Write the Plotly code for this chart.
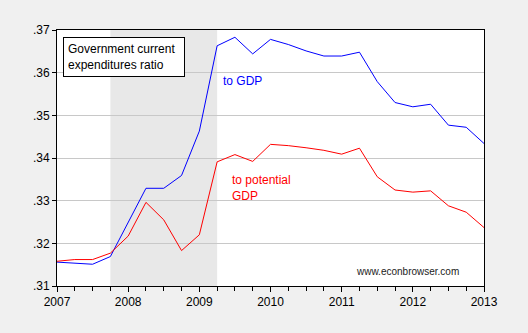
import plotly.graph_objects as go

# Quarterly observations, 2007Q1 - 2013Q1
quarters = [2007 + i / 4 for i in range(25)]
ratio_to_gdp = [
    0.3156, 0.3153, 0.3151, 0.3169,
    0.3248, 0.3329, 0.3329, 0.3359,
    0.3463, 0.3663, 0.3683, 0.3644,
    0.3678, 0.3666, 0.3651, 0.3639,
    0.3639, 0.3648, 0.3579, 0.3530,
    0.3520, 0.3526, 0.3477, 0.3472,
    0.3434,
]
ratio_to_potential = [
    0.3158, 0.3162, 0.3162, 0.3177,
    0.3217, 0.3296, 0.3255, 0.3183,
    0.3220, 0.3391, 0.3408, 0.3392,
    0.3432, 0.3429, 0.3424, 0.3418,
    0.3409, 0.3423, 0.3356, 0.3325,
    0.3320, 0.3323, 0.3288, 0.3273,
    0.3237,
]
year_ticks = [2007, 2008, 2009, 2010, 2011, 2012, 2013]
y_ticks = [0.31, 0.32, 0.33, 0.34, 0.35, 0.36, 0.37]
y_tick_text = [".31", ".32", ".33", ".34", ".35", ".36", ".37"]
recession = (2007.75, 2009.25)

FONT = "Arial, Liberation Sans, sans-serif"

fig = go.Figure()
fig.add_trace(go.Scatter(x=quarters, y=ratio_to_gdp, mode="lines",
                         line=dict(color="#0000ff", width=1), showlegend=False))
fig.add_trace(go.Scatter(x=quarters, y=ratio_to_potential, mode="lines",
                         line=dict(color="#ff0000", width=1), showlegend=False))

# NBER recession shading
fig.add_shape(type="rect", xref="x", yref="paper", x0=recession[0], x1=recession[1],
              y0=0, y1=1, fillcolor="#e8e8e8", line=dict(width=0), layer="below")

fig.add_annotation(xref="paper", yref="paper", x=0.014, y=0.973,
                   xanchor="left", yanchor="top", align="left", showarrow=False,
                   text="Government current<br>expenditures ratio",
                   width=112,
                   font=dict(family=FONT, size=12, color="black"),
                   bgcolor="white", bordercolor="black", borderwidth=1, borderpad=4)
fig.add_annotation(x=2009.30, y=0.3580, xanchor="left", yanchor="middle",
                   showarrow=False, text="to GDP",
                   font=dict(family=FONT, size=12, color="#0000ff"))
fig.add_annotation(x=2009.43, y=0.3330, xanchor="left", yanchor="middle",
                   align="left", showarrow=False, text="to potential<br>GDP",
                   font=dict(family=FONT, size=12, color="#ff0000"))
fig.add_annotation(x=2011.17, y=0.3133, xanchor="left", yanchor="middle",
                   showarrow=False, text="www.econbrowser.com",
                   font=dict(family=FONT, size=10, color="#222222"))

fig.update_layout(
    width=528, height=333,
    margin=dict(l=57, r=44, t=30, b=47),
    paper_bgcolor="#f0f0f0", plot_bgcolor="white",
    font=dict(family=FONT, size=12, color="black"),
    xaxis=dict(range=[2007, 2013], tickvals=year_ticks,
               ticktext=[str(y) for y in year_ticks],
               showgrid=False, zeroline=False,
               showline=True, linecolor="black", linewidth=1, mirror=True,
               ticks="outside", ticklen=5, tickcolor="black",
               minor=dict(dtick=0.25, tick0=2007, ticks="outside", ticklen=4,
                          tickcolor="black", showgrid=False)),
    yaxis=dict(range=[0.31, 0.37], tickvals=y_ticks, ticktext=y_tick_text,
               showgrid=True, gridcolor="#c8c8c8", gridwidth=1, zeroline=False,
               showline=True, linecolor="black", linewidth=1, mirror=True,
               ticks="outside", ticklen=4, tickcolor="black"),
)

fig.write_html("out.html")
